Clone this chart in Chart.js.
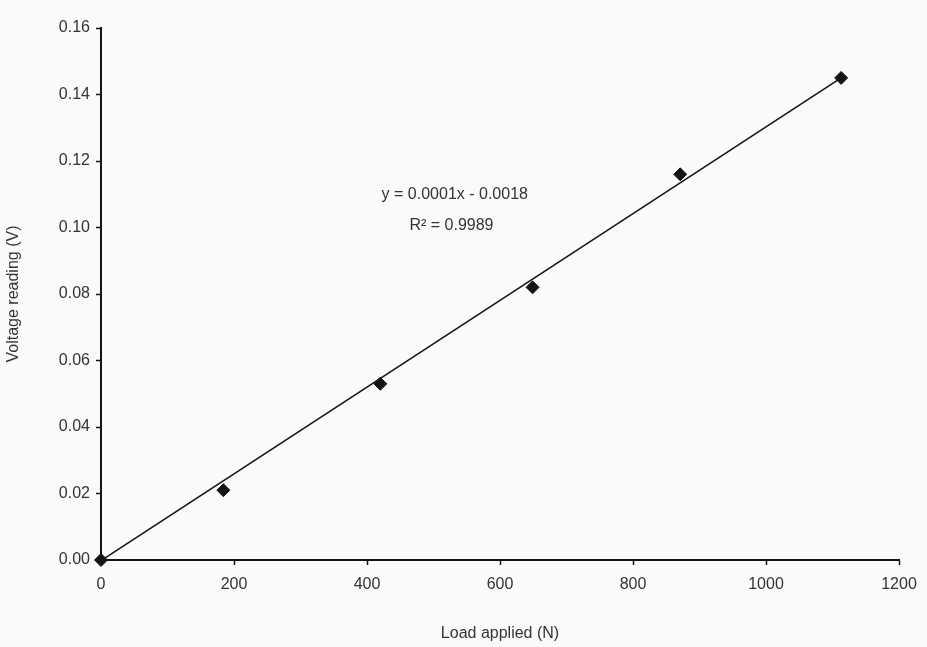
<!DOCTYPE html>
<html>
<head>
<meta charset="utf-8">
<style>
  html, body { margin: 0; padding: 0; background: #fafaf8; }
  #wrap { width: 927px; height: 647px; }
</style>
<script src="https://cdn.jsdelivr.net/npm/chart.js@4/dist/chart.umd.min.js"></script>
</head>
<body>
<div id="wrap"><canvas id="loadChart" width="927" height="647"></canvas></div>
<script>
// readings
const loadN = [0, 184, 420, 649, 871, 1113];
const voltageV = [0, 0.021, 0.053, 0.082, 0.116, 0.145];

// trend line ends, as drawn on the plot
const trendX = [0, 1113];
const trendY = [-0.0002, 0.1450];

const eqLines = ['y = 0.0001x - 0.0018', 'R² = 0.9989'];

const inkColor = '#141414';
const textColor = '#333333';
const fontFamily = '"Liberation Sans", Arial, sans-serif';

const pointData = loadN.map((x, i) => ({ x: x, y: voltageV[i] }));
const trendData = trendX.map((x, i) => ({ x: x, y: trendY[i] }));

// writes the fit equation onto the plot like the spreadsheet label
const equationLabel = {
    id: 'equationLabel',
    afterDatasetsDraw(chart) {
        const ctx = chart.ctx;
        const xs = chart.scales.x;
        const ys = chart.scales.y;
        ctx.save();
        ctx.fillStyle = textColor;
        ctx.font = '16px ' + fontFamily;
        ctx.textAlign = 'center';
        ctx.textBaseline = 'middle';
        ctx.fillText(eqLines[0], xs.getPixelForValue(532), ys.getPixelForValue(0.1098));
        ctx.fillText(eqLines[1], xs.getPixelForValue(527), ys.getPixelForValue(0.1005));
        ctx.restore();
    }
};

const ctxLoad = document.getElementById('loadChart');
const myChart = new Chart(ctxLoad, {
    type: 'scatter',
    data: {
        datasets: [{
            label: 'Trend',
            data: trendData,
            showLine: true,
            borderColor: inkColor,
            borderWidth: 1.6,
            pointRadius: 0,
            clip: false,
            order: 2
        },
        {
            label: 'Readings',
            data: pointData,
            pointStyle: 'rectRot',
            pointRadius: 6.5,
            backgroundColor: inkColor,
            borderColor: inkColor,
            clip: false,
            order: 1
        }
        ]
    },
    options: {
        responsive: false,
        animation: false,
        layout: {
            padding: { top: 28, right: 28, left: 0, bottom: 0 }
        },
        plugins: {
            legend: { display: false },
            tooltip: { enabled: false }
        },
        scales: {
            x: {
                type: 'linear',
                min: 0,
                max: 1200,
                afterFit(axis) { axis.height = 87; },
                border: { color: inkColor, width: 2 },
                grid: {
                    drawOnChartArea: false,
                    tickLength: 5,
                    color: inkColor,
                    tickWidth: 1.5
                },
                ticks: {
                    stepSize: 200,
                    padding: 10,
                    color: textColor,
                    font: { family: fontFamily, size: 16 },
                    callback: v => String(v)
                },
                title: {
                    display: true,
                    text: 'Load applied (N)',
                    color: textColor,
                    padding: { top: 12 },
                    font: { family: fontFamily, size: 16 }
                }
            },
            y: {
                type: 'linear',
                min: 0,
                max: 0.16,
                afterFit(axis) { axis.width = 101; },
                border: { color: inkColor, width: 2 },
                grid: {
                    drawOnChartArea: false,
                    tickLength: 5,
                    color: inkColor,
                    tickWidth: 1.5
                },
                ticks: {
                    stepSize: 0.02,
                    padding: 6,
                    color: textColor,
                    font: { family: fontFamily, size: 16 },
                    callback: v => v.toFixed(2)
                },
                title: {
                    display: true,
                    text: 'Voltage reading (V)',
                    color: textColor,
                    padding: { bottom: 2 },
                    font: { family: fontFamily, size: 16 }
                }
            }
        }
    },
    plugins: [equationLabel]
});
</script>
</body>
</html>
